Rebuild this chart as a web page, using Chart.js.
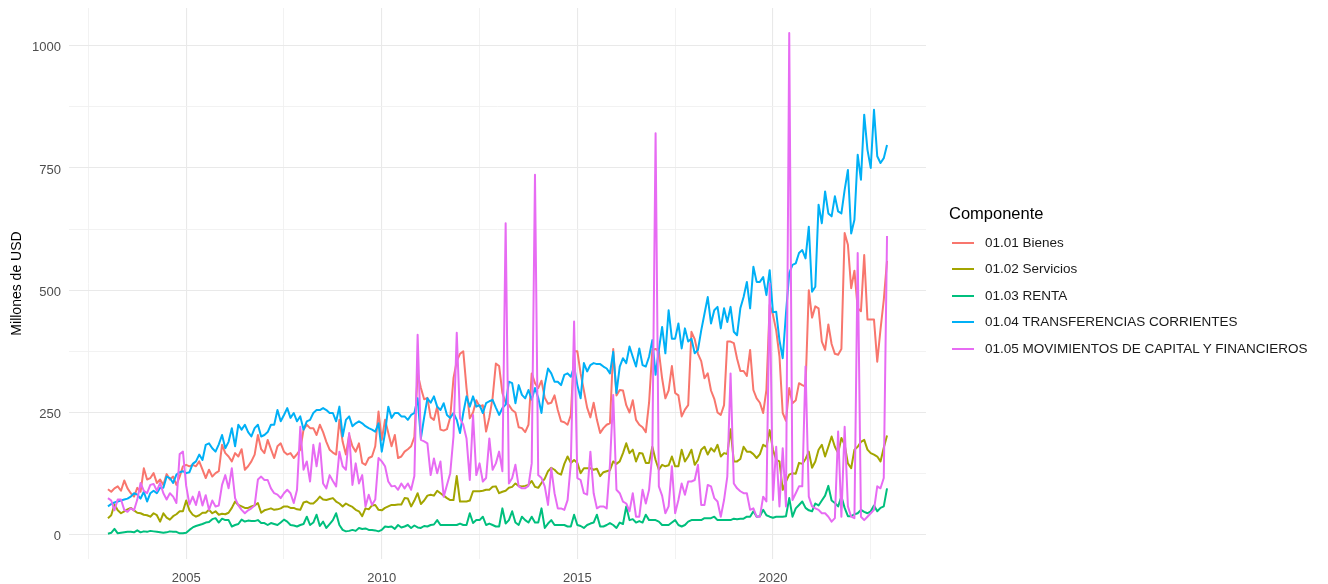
<!DOCTYPE html>
<html><head><meta charset="utf-8">
<script src="https://cdn.jsdelivr.net/npm/chart.js@4.4.1/dist/chart.umd.min.js"></script>
<style>
html,body{margin:0;padding:0;background:#fff;}
#wrap{position:relative;width:1328px;height:584px;overflow:hidden;}
canvas{position:absolute;left:0;top:0;}
.leg{position:absolute;font-family:"Liberation Sans",Arial,Helvetica,sans-serif;color:#1a1a1a;white-space:nowrap;}
.key{position:absolute;height:2px;width:22px;}
</style></head><body>
<div id="wrap"><canvas id="c" width="1328" height="584"></canvas><div id="legend"></div></div>
<script>
// ---- data (monthly, Jan 2003 - Dec 2022), millones de USD ----
const startYear = 2003;
const seriesNames = ["01.01 Bienes","01.02 Servicios","01.03 RENTA","01.04 TRANSFERENCIAS CORRIENTES","01.05 MOVIMIENTOS DE CAPITAL Y FINANCIEROS"];
const seriesColors = ["#F8766D","#A3A500","#00BF7D","#00B0F6","#E76BF3"];

const bienes = [
93,88,95,99,90,111,95,85,78,96,88,136,
113,116,126,106,113,102,124,113,119,102,119,140,
143,140,143,140,150,133,116,133,119,126,130,184,
167,160,150,167,160,175,133,140,150,164,204,175,
167,194,175,157,181,187,170,164,167,157,165,174,
215,225,218,218,204,225,210,190,174,168,164,235,
190,164,204,181,170,187,147,143,157,160,181,252,
194,235,208,181,204,157,160,170,175,181,200,330,
300,277,280,240,235,262,215,213,216,240,320,355,
370,375,300,238,250,275,262,265,211,240,280,350,
345,290,270,265,255,250,220,218,210,225,330,310,
300,315,280,268,270,285,255,232,230,225,245,375,
375,330,295,260,240,270,235,208,218,225,228,380,
285,296,295,265,250,275,235,225,220,210,270,378,
380,375,320,279,295,345,290,285,242,256,265,415,
400,370,355,320,330,295,278,250,245,265,395,395,
392,360,335,335,325,378,296,279,270,249,296,470,
450,418,365,249,233,300,269,275,310,306,303,500,
444,467,463,395,378,430,390,370,368,380,617,593,
504,540,463,457,572,440,440,440,354,420,480,560];

const servicios = [
34,40,62,50,44,48,52,55,50,45,44,41,
40,37,44,40,27,44,35,31,38,42,48,48,
70,50,41,37,40,45,45,51,44,48,41,43,
42,45,55,68,61,58,55,55,58,60,65,45,
50,52,54,51,52,54,58,58,55,55,52,51,
66,68,64,64,70,78,72,71,73,75,68,64,
58,64,60,57,51,48,38,54,52,60,61,51,
50,55,58,61,61,62,62,75,74,58,70,85,
63,70,80,82,80,90,85,80,75,71,71,120,
68,68,68,70,89,89,89,90,92,92,98,99,
85,88,90,96,98,105,100,99,100,102,110,98,
96,106,115,130,137,133,126,123,145,160,147,153,
147,126,136,136,136,133,135,120,128,130,132,150,
145,150,167,187,167,174,150,167,166,147,147,180,
153,133,143,140,142,160,140,140,174,150,160,174,
143,153,174,180,164,177,170,184,160,167,165,216,
150,150,155,180,170,170,165,157,165,184,180,214,
174,153,150,92,109,123,126,125,147,145,155,170,
137,150,174,184,160,180,201,180,167,198,184,146,
136,174,180,190,194,174,167,164,160,150,178,203];

const renta = [
2,4,12,3,4,5,6,6,5,9,5,7,
6,8,7,6,5,4,5,7,6,6,3,3,
4,10,15,18,20,22,25,26,32,34,25,33,
30,30,17,20,22,31,27,29,28,28,30,24,
24,20,24,22,20,25,31,27,20,19,17,20,
22,37,20,25,41,18,27,14,22,30,44,20,
10,7,8,10,8,14,12,13,10,10,9,7,
10,17,16,17,12,20,15,17,20,14,19,15,
14,18,17,20,21,30,20,20,20,20,20,20,
23,20,20,44,24,30,30,37,20,23,20,17,
17,54,23,30,48,25,20,37,30,25,37,25,
25,54,14,23,30,20,20,20,20,17,17,41,
20,18,14,20,23,25,41,17,17,20,24,20,
14,25,22,58,30,32,25,28,25,41,30,30,
30,27,20,20,20,25,30,20,17,20,27,30,
30,30,30,34,34,34,37,30,30,30,30,30,
33,32,33,33,37,37,48,37,38,51,40,37,
35,37,37,37,38,75,37,54,61,68,55,50,
48,64,60,70,80,100,70,65,58,78,55,38,
38,42,44,51,47,44,48,60,48,55,58,95];

const transferencias = [
58,63,66,68,70,72,74,78,85,82,74,88,
68,85,90,85,96,96,119,116,106,123,128,130,
126,128,145,150,164,153,184,187,177,170,185,204,
177,190,218,181,225,215,225,210,201,218,225,201,
204,210,225,225,255,232,245,259,239,249,232,242,
215,232,235,249,255,255,259,255,249,249,232,262,
201,235,242,222,228,232,228,222,218,215,211,228,
170,208,262,239,249,249,242,242,235,245,249,279,
197,240,279,270,283,262,255,269,245,239,249,235,
208,249,283,262,283,262,265,249,269,273,276,260,
245,259,266,313,310,269,306,286,279,296,276,300,
280,249,306,340,330,313,313,306,327,330,323,344,
306,279,351,334,347,351,349,349,344,340,330,374,
290,344,361,351,385,364,344,381,347,344,364,398,
327,378,425,371,459,401,401,432,381,422,395,401,
371,378,418,452,486,432,459,466,422,463,435,466,
415,408,463,486,517,463,548,517,517,527,490,541,
455,456,398,361,453,535,552,555,576,582,565,630,
497,507,675,637,702,657,651,692,661,657,705,746,
616,644,777,726,859,787,750,869,774,760,770,797];

const movimientos = [
75,70,50,72,72,51,47,54,50,72,106,90,
85,102,104,90,106,85,72,85,78,65,165,170,
100,62,78,61,88,60,81,51,70,58,60,102,
122,95,136,75,60,51,44,50,54,60,113,119,
112,112,95,85,82,75,85,92,85,65,92,221,
133,150,109,184,140,187,105,95,122,110,99,170,
140,133,208,102,146,105,122,58,82,61,72,157,
150,140,109,99,100,92,105,95,105,92,120,409,
194,191,187,122,156,126,150,78,102,126,201,413,
238,225,197,112,245,122,146,109,116,197,133,146,
170,130,637,105,116,143,99,95,95,100,146,736,
122,116,99,61,136,85,54,54,51,71,146,436,
116,112,85,82,170,85,54,58,58,54,143,286,
92,85,68,64,48,85,37,37,92,64,92,167,
821,99,80,44,58,140,44,71,105,82,109,109,
112,143,61,61,102,99,75,68,37,71,119,330,
105,95,89,85,85,51,54,37,37,78,68,514,
71,180,58,177,58,1026,71,85,99,99,344,78,
58,54,51,44,44,37,27,34,211,37,221,58,
37,34,576,37,30,37,44,51,99,95,116,611];

// tick positions / labels
const xTickValues = [2002.5,2005,2007.5,2010,2012.5,2015,2017.5,2020,2022.5];
const xTickLabels = ["","2005","","2010","","2015","","2020",""];
const yTickValues = [0,125,250,375,500,625,750,875,1000];
const yTickLabels = ["0","","250","","500","","750","","1000"];

// month positions (decimal years) – categories
const meses = [];
for (let i = 0; i < bienes.length; i++) meses.push(startYear + i / 12);

const allSeries = [bienes, servicios, renta, transferencias, movimientos];
const FONT = '"Liberation Sans", Arial, Helvetica, sans-serif';

const datasets = allSeries.map((arr, k) => ({
  label: seriesNames[k],
  data: arr.map((v, i) => ({x: meses[i], y: v})),
  borderColor: seriesColors[k],
  backgroundColor: seriesColors[k],
  borderWidth: 2,
  pointRadius: 0,
  tension: 0,
  fill: false,
  borderJoinStyle: 'round',
  order: 4 - k
}));

const majorX = v => xTickLabels[xTickValues.indexOf(v)] !== "";
const majorY = v => yTickLabels[yTickValues.indexOf(v)] !== "";

new Chart(document.getElementById('c'), {
  type: 'line',
  data: {datasets},
  options: {
    responsive: false, animation: false, devicePixelRatio: 1,
    layout: {padding: {left: 0, right: 402, top: 8, bottom: 0}},
    plugins: {legend: {display: false}, tooltip: {enabled: false}},
    scales: {
      x: {
        type: 'linear', min: 2002.004, max: 2023.913,
        afterBuildTicks: s => { s.ticks = xTickValues.map(v => ({value: v})); },
        afterFit: s => { s.height = 25; s.paddingLeft = 0; s.paddingRight = 0; },
        grid: {drawTicks: false,
               color: c => majorX(c.tick.value) ? '#e9e9e9' : '#f1f1f1',
               lineWidth: c => majorX(c.tick.value) ? 1.1 : 0.9},
        border: {display: false},
        ticks: {autoSkip: false, maxRotation: 0, minRotation: 0, padding: 12, color: '#4d4d4d',
                font: {family: FONT, size: 13},
                callback: v => { const i = xTickValues.indexOf(v); return i >= 0 ? xTickLabels[i] : ''; }}
      },
      y: {
        type: 'linear', min: -49.5, max: 1077,
        afterBuildTicks: s => { s.ticks = yTickValues.map(v => ({value: v})); },
        afterFit: s => { s.width = 69; s.paddingTop = 0; s.paddingBottom = 0; },
        grid: {drawTicks: false,
               color: c => majorY(c.tick.value) ? '#e9e9e9' : '#f1f1f1',
               lineWidth: c => majorY(c.tick.value) ? 1.1 : 0.9},
        border: {display: false},
        ticks: {autoSkip: false, padding: 8, labelOffset: 2, color: '#4d4d4d',
                font: {family: FONT, size: 13},
                callback: v => { const i = yTickValues.indexOf(v); return i >= 0 ? yTickLabels[i] : ''; }},
        title: {display: true, text: 'Millones de USD', color: '#000',
                font: {family: FONT, size: 14}, padding: {top: 9, bottom: 0}}
      }
    }
  }
});

// legend (HTML text)
const leg = document.getElementById('legend');
const t = document.createElement('div');
t.className = 'leg';
t.style.cssText = 'left:949px;top:203px;font-size:16.5px;line-height:20px;color:#000;';
t.textContent = 'Componente';
leg.appendChild(t);
const itemY = [242.5, 269, 295.5, 322, 348.5];
seriesNames.forEach((n, k) => {
  const key = document.createElement('div');
  key.className = 'key';
  key.style.cssText = `left:952px;top:${itemY[k]-1}px;background:${seriesColors[k]};`;
  leg.appendChild(key);
  const lab = document.createElement('div');
  lab.className = 'leg';
  lab.style.cssText = `left:985px;top:${itemY[k]-8}px;font-size:13.5px;line-height:16px;`;
  lab.textContent = n;
  leg.appendChild(lab);
});
</script>
</body></html>
